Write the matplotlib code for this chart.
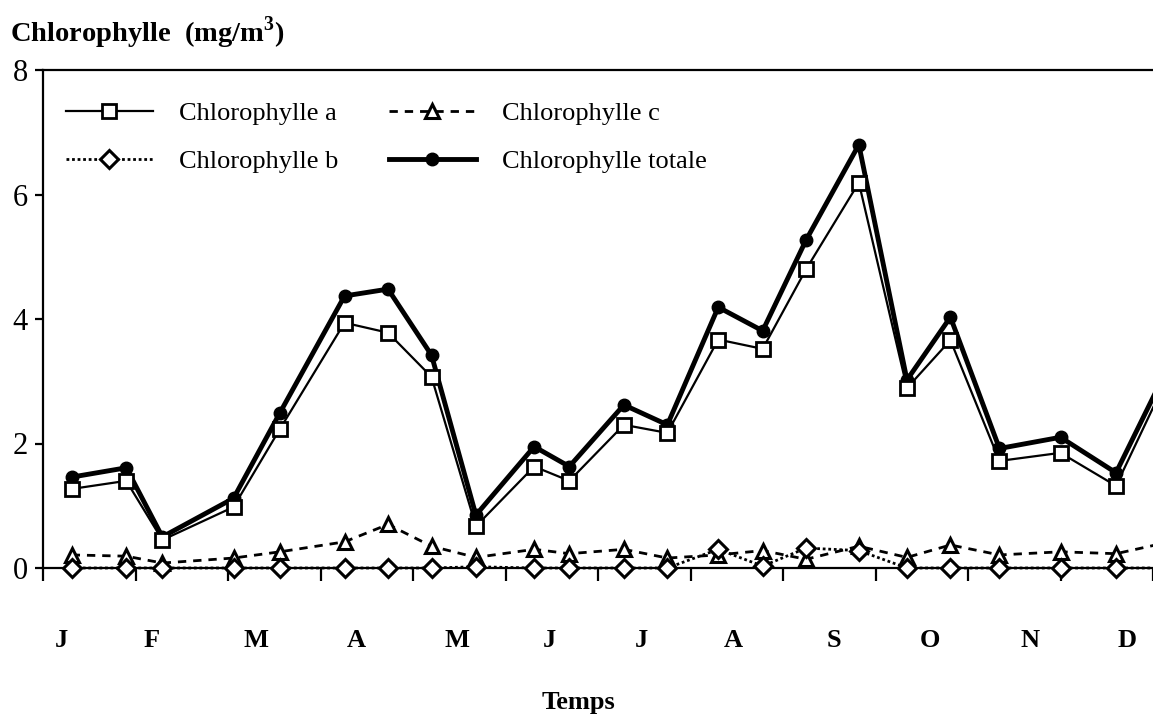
import numpy as np
import matplotlib
matplotlib.use("Agg")
import matplotlib.pyplot as plt

# Font setup: Times-like serif
plt.rcParams['font.family'] = ['Liberation Serif', 'DejaVu Serif']
plt.rcParams['mathtext.fontset'] = 'custom'
plt.rcParams['mathtext.rm'] = 'Liberation Serif'
plt.rcParams['mathtext.bf'] = 'Liberation Serif:bold'

# Sampling dates (in months from 1 January)
mois = [0.31, 0.90, 1.29, 2.06, 2.56, 3.26, 3.73, 4.20, 4.68, 5.31, 5.69, 6.28,
        6.75, 7.30, 7.78, 8.25, 8.82, 9.34, 9.81, 10.34, 11.00, 11.60, 12.12]

# Chlorophyll concentrations (mg/m3)
chl_a = [1.27, 1.40, 0.45, 0.98, 2.23, 3.94, 3.78, 3.07, 0.67, 1.63, 1.40, 2.30,
         2.17, 3.67, 3.52, 4.80, 6.19, 2.89, 3.66, 1.72, 1.85, 1.32, 2.95]
chl_b = [0.0, 0.0, 0.0, 0.0, 0.0, 0.0, 0.0, 0.0, 0.02, 0.0, 0.0, 0.0,
         0.0, 0.30, 0.03, 0.32, 0.28, 0.0, 0.0, 0.0, 0.0, 0.0, 0.0]
chl_c = [0.21, 0.19, 0.08, 0.16, 0.26, 0.42, 0.70, 0.35, 0.17, 0.30, 0.23, 0.30,
         0.16, 0.21, 0.28, 0.14, 0.35, 0.17, 0.37, 0.21, 0.26, 0.23, 0.40]
chl_tot = [1.46, 1.61, 0.50, 1.12, 2.49, 4.37, 4.48, 3.42, 0.85, 1.95, 1.63, 2.62,
           2.30, 4.19, 3.81, 5.27, 6.80, 3.02, 4.03, 1.92, 2.10, 1.53, 3.10]

# Month labels and their positions
mois_labels = ['J', 'F', 'M', 'A', 'M', 'J', 'J', 'A', 'S', 'O', 'N', 'D']
mois_pos = [0.20, 1.17, 2.30, 3.39, 4.48, 5.48, 6.47, 7.46, 8.55, 9.59, 10.67, 11.72]

fig = plt.figure(figsize=(11.53, 7.15), dpi=100)
ax = fig.add_axes([43/1153, 147/715, 1110/1153, 498/715])

# Plotting the four series (no clipping so markers on the zero line stay whole)
ax.plot(mois, chl_tot, color='k', linewidth=3.5, marker='o', markersize=9,
        markerfacecolor='k', label='Chlorophylle totale', zorder=3, clip_on=False)
ax.plot(mois, chl_a, color='k', linewidth=1.6, marker='s', markersize=10,
        markerfacecolor='white', markeredgewidth=2, label='Chlorophylle a',
        zorder=4, clip_on=False)
ax.plot(mois, chl_c, color='k', linewidth=2, linestyle=(0, (3, 2.5)), marker='^',
        markersize=10, markerfacecolor='white', markeredgewidth=2.2,
        label='Chlorophylle c', zorder=5, clip_on=False)
ax.plot(mois, chl_b, color='k', linewidth=2, linestyle=(0, (1, 1)), marker='D',
        markersize=9, markerfacecolor='white', markeredgewidth=2.2,
        label='Chlorophylle b', zorder=6, clip_on=False)

# Axis limits and spines
ax.set_xlim(0, 11.93)
ax.set_ylim(0, 8)
ax.spines['right'].set_visible(False)
for s in ['left', 'top', 'bottom']:
    ax.spines[s].set_linewidth(1.6)

ax.set_xticks(np.arange(0, 13))
ax.set_xticklabels([])
ax.tick_params(axis='x', direction='out', length=9, width=1.6)
ax.set_yticks([0, 2, 4, 6, 8])
ax.tick_params(axis='y', direction='out', length=6, width=1.6, labelsize=22, pad=5)

# Month names under the axis
for p, lab in zip(mois_pos, mois_labels):
    ax.text(p, -0.145, lab, transform=ax.get_xaxis_transform(), fontsize=19,
            fontweight='bold', ha='center', va='center')

fig.text(578/1153, 1 - 702/715, 'Temps', fontsize=19, fontweight='bold',
         ha='center', va='center')
fig.text(10/1153, 1 - 33/715, r'Chlorophylle  (mg/m$^{\mathbf{3}}$)', fontsize=20.5,
         fontweight='bold', ha='left', va='center')

# Legend in two columns
h, l = ax.get_legend_handles_labels()
order = [1, 3, 2, 0]
ax.legend([h[i] for i in order], [l[i] for i in order], ncol=2, frameon=False,
          loc='upper left', bbox_to_anchor=(0.011, 0.958), borderaxespad=0,
          fontsize=19, handlelength=3.3, handletextpad=1.0, columnspacing=1.9,
          labelspacing=0.95)

fig.savefig('out.png', dpi=100)
